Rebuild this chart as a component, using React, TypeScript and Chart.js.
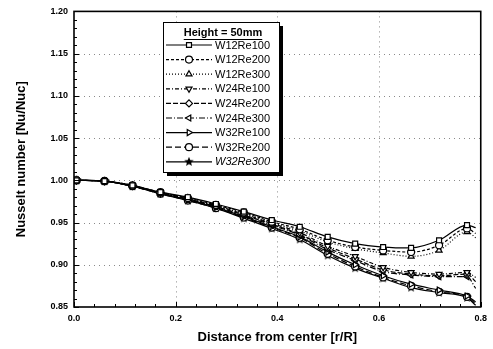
import { useEffect, useRef } from "react";
import { Chart, registerables } from "chart.js";
import { drawPoint } from "chart.js/helpers";

Chart.register(...registerables);

// r/R positions of the measured points
const radialPositions = [0.005, 0.06, 0.115, 0.17, 0.224, 0.279, 0.334, 0.389, 0.444, 0.499, 0.553, 0.608, 0.663, 0.718, 0.773];
// curves run slightly past the last marker
const extensionPosition = 0.79;

const seriesNames = ["W12Re100", "W12Re200", "W12Re300", "W24Re100", "W24Re200", "W24Re300", "W32Re100", "W32Re200", "W32Re300"];

const w12Re100 = [1.0, 0.999, 0.994, 0.986, 0.98, 0.972, 0.963, 0.953, 0.945, 0.933, 0.925, 0.921, 0.92, 0.929, 0.947];
const w12Re200 = [1.0, 0.999, 0.994, 0.986, 0.979, 0.971, 0.962, 0.951, 0.942, 0.929, 0.921, 0.917, 0.915, 0.923, 0.943];
const w12Re300 = [1.0, 0.999, 0.994, 0.985, 0.979, 0.97, 0.961, 0.95, 0.94, 0.927, 0.919, 0.914, 0.91, 0.917, 0.939];
const w24Re100 = [1.0, 0.999, 0.994, 0.985, 0.978, 0.97, 0.96, 0.949, 0.938, 0.922, 0.91, 0.897, 0.891, 0.889, 0.891];
const w24Re200 = [1.0, 0.999, 0.993, 0.985, 0.978, 0.969, 0.959, 0.948, 0.936, 0.92, 0.907, 0.894, 0.889, 0.887, 0.889];
const w24Re300 = [1.0, 0.999, 0.993, 0.985, 0.977, 0.969, 0.958, 0.947, 0.935, 0.918, 0.905, 0.892, 0.888, 0.886, 0.886];
const w32Re100 = [1.0, 0.999, 0.993, 0.985, 0.977, 0.968, 0.957, 0.945, 0.933, 0.915, 0.9, 0.887, 0.877, 0.87, 0.863];
const w32Re200 = [1.0, 0.999, 0.993, 0.984, 0.976, 0.967, 0.956, 0.944, 0.932, 0.913, 0.898, 0.885, 0.875, 0.868, 0.862];
const w32Re300 = [1.0, 0.999, 0.993, 0.984, 0.976, 0.967, 0.955, 0.943, 0.93, 0.911, 0.896, 0.884, 0.873, 0.867, 0.861];
const extensionValues = [0.944, 0.937, 0.932, 0.885, 0.88, 0.872, 0.856, 0.854, 0.852];

const seriesValues = [w12Re100, w12Re200, w12Re300, w24Re100, w24Re200, w24Re300, w32Re100, w32Re200, w32Re300];

const xGridValues = [0.2, 0.4, 0.6];
const yGridValues = [0.9, 0.95, 1.0, 1.05, 1.1, 1.15];

const legendTitle = "Height = 50mm";
const xTitle = "Distance from center [r/R]";
const yTitle = "Nusselt number [Nu/Nuc]";

const FONT = "'Liberation Sans', Arial, sans-serif";

function makeStar(size: number) {
  const c = document.createElement("canvas");
  c.width = size;
  c.height = size;
  const g = c.getContext("2d")!;
  g.beginPath();
  for (let i = 0; i < 10; i++) {
    const r = i % 2 ? size * 0.22 : size * 0.5;
    const a = -Math.PI / 2 + (i * Math.PI) / 5;
    const px = size / 2 + r * Math.cos(a);
    const py = size / 2 + r * Math.sin(a);
    if (i === 0) g.moveTo(px, py);
    else g.lineTo(px, py);
  }
  g.closePath();
  g.fillStyle = "#000";
  g.fill();
  return c;
}

export default function App() {
  const ref = useRef<HTMLCanvasElement>(null);

  useEffect(() => {
    const star = makeStar(10);
    const styles: any[] = [
      { pointStyle: "rect", rotation: 0, dash: [] },
      { pointStyle: "circle", rotation: 0, dash: [3, 2] },
      { pointStyle: "triangle", rotation: 0, dash: [1, 2] },
      { pointStyle: "triangle", rotation: 180, dash: [4, 2, 1, 2] },
      { pointStyle: "rectRot", rotation: 0, dash: [5, 2] },
      { pointStyle: "triangle", rotation: 270, dash: [6, 2, 1, 2] },
      { pointStyle: "triangle", rotation: 90, dash: [] },
      { pointStyle: "circle", rotation: 0, dash: [6, 3] },
      { pointStyle: star, rotation: 0, dash: [] },
    ];

    const datasets = seriesNames.map((name, i) => {
      const pts = radialPositions.map((x, k) => ({ x, y: seriesValues[i][k] }));
      pts.push({ x: extensionPosition, y: extensionValues[i] });
      const radii = pts.map((_, k) => (k === pts.length - 1 ? 0 : 3.5));
      return {
        label: name,
        data: pts,
        borderColor: "#000",
        borderWidth: 1.2,
        borderDash: styles[i].dash,
        pointStyle: styles[i].pointStyle,
        pointRotation: styles[i].rotation,
        pointRadius: radii,
        pointBorderColor: "#000",
        pointBackgroundColor: "#fff",
        pointBorderWidth: 1.2,
        cubicInterpolationMode: "monotone",
        fill: false,
      };
    });

    const dottedGrid = {
      id: "dottedGrid",
      beforeDatasetsDraw(chart: any) {
        const { ctx, chartArea: a, scales } = chart;
        ctx.save();
        ctx.strokeStyle = "#8a8a8a";
        ctx.lineWidth = 1;
        ctx.setLineDash([1, 4]);
        yGridValues.forEach((v) => {
          const py = Math.round(scales.y.getPixelForValue(v)) + 0.5;
          ctx.beginPath();
          ctx.moveTo(a.left, py);
          ctx.lineTo(a.right, py);
          ctx.stroke();
        });
        xGridValues.forEach((v) => {
          const px = Math.round(scales.x.getPixelForValue(v)) + 0.5;
          ctx.beginPath();
          ctx.moveTo(px, a.top);
          ctx.lineTo(px, a.bottom);
          ctx.stroke();
        });
        ctx.restore();
      },
    };

    const decor = {
      id: "decor",
      afterDraw(chart: any) {
        const { ctx, chartArea: a, scales } = chart;
        const x = scales.x;
        const y = scales.y;
        ctx.save();
        // frame
        ctx.strokeStyle = "#000";
        ctx.lineWidth = 1.6;
        ctx.setLineDash([]);
        ctx.strokeRect(a.left, a.top, a.right - a.left, a.bottom - a.top);
        // inward ticks
        ctx.lineWidth = 1;
        for (let k = 0; k <= 35; k++) {
          const py = Math.round(y.getPixelForValue(0.85 + k * 0.01)) + 0.5;
          const len = k % 5 === 0 ? 5 : 3;
          ctx.beginPath();
          ctx.moveTo(a.left, py);
          ctx.lineTo(a.left + len, py);
          ctx.stroke();
        }
        for (let k = 0; k <= 20; k++) {
          const px = Math.round(x.getPixelForValue(k * 0.04)) + 0.5;
          const len = k % 5 === 0 ? 5 : 3;
          ctx.beginPath();
          ctx.moveTo(px, a.bottom);
          ctx.lineTo(px, a.bottom - len);
          ctx.stroke();
        }
        // legend box
        const bx = 163, by = 22, bw = 116, bh = 150;
        ctx.fillStyle = "#000";
        ctx.fillRect(bx + 4, by + 4, bw, bh);
        ctx.fillStyle = "#fff";
        ctx.fillRect(bx, by, bw, bh);
        ctx.strokeStyle = "#000";
        ctx.lineWidth = 1;
        ctx.strokeRect(bx + 0.5, by + 0.5, bw, bh);
        // title
        ctx.fillStyle = "#000";
        ctx.font = `bold 11px ${FONT}`;
        ctx.textAlign = "center";
        ctx.textBaseline = "middle";
        ctx.fillText(legendTitle, 223, 33);
        const tw = ctx.measureText(legendTitle).width;
        ctx.beginPath();
        ctx.moveTo(223 - tw / 2, 39.5);
        ctx.lineTo(223 + tw / 2, 39.5);
        ctx.stroke();
        // entries
        chart.data.datasets.forEach((ds: any, i: number) => {
          const ry = 45 + i * 14.6;
          ctx.strokeStyle = "#000";
          ctx.lineWidth = 1.2;
          ctx.setLineDash(ds.borderDash || []);
          ctx.beginPath();
          ctx.moveTo(166, ry);
          ctx.lineTo(212, ry);
          ctx.stroke();
          ctx.setLineDash([]);
          ctx.fillStyle = "#fff";
          drawPoint(ctx, { pointStyle: ds.pointStyle, rotation: ds.pointRotation, radius: 3.5, borderWidth: 1.2 }, 189, ry);
          ctx.fillStyle = "#000";
          ctx.font = `${i === 8 ? "italic " : ""}11px ${FONT}`;
          ctx.textAlign = "left";
          ctx.fillText(ds.label, 215, ry + 0.5);
        });
        ctx.restore();
      },
    };

    const chart = new Chart(ref.current!, {
      type: "line",
      data: { datasets: datasets as any },
      options: {
        animation: false,
        responsive: false,
        layout: { padding: { top: 10, right: 7, left: 0, bottom: 0 } },
        plugins: { legend: { display: false }, tooltip: { enabled: false } },
        scales: {
          x: {
            type: "linear",
            min: 0,
            max: 0.8,
            border: { display: false },
            grid: { display: false, drawTicks: false },
            ticks: {
              stepSize: 0.2,
              padding: 6,
              color: "#000",
              font: { family: FONT, size: 9, weight: "bold" },
              callback: (v: any) => Number(v).toFixed(1),
              maxRotation: 0,
            },
            title: { display: true, text: xTitle, color: "#000", font: { family: FONT, size: 13, weight: "bold" }, padding: { top: 0, bottom: 4 } },
            afterFit: (s: any) => { s.height = 42; },
          },
          y: {
            type: "linear",
            min: 0.85,
            max: 1.2,
            border: { display: false },
            grid: { display: false, drawTicks: false },
            ticks: {
              stepSize: 0.05,
              padding: 6,
              color: "#000",
              font: { family: FONT, size: 9, weight: "bold" },
              callback: (v: any) => Number(v).toFixed(2),
            },
            title: { display: true, text: yTitle, color: "#000", font: { family: FONT, size: 13, weight: "bold" }, padding: { top: 14, bottom: 0 } },
            afterFit: (s: any) => { s.width = 74; },
          },
        },
      } as any,
      plugins: [dottedGrid, decor],
    });
    return () => chart.destroy();
  }, []);

  return (
    <div style={{ position: "absolute", left: 0, top: 0, width: 493, height: 349, background: "#fff" }}>
      <canvas ref={ref} width={493} height={349} style={{ width: 493, height: 349 }} />
    </div>
  );
}
